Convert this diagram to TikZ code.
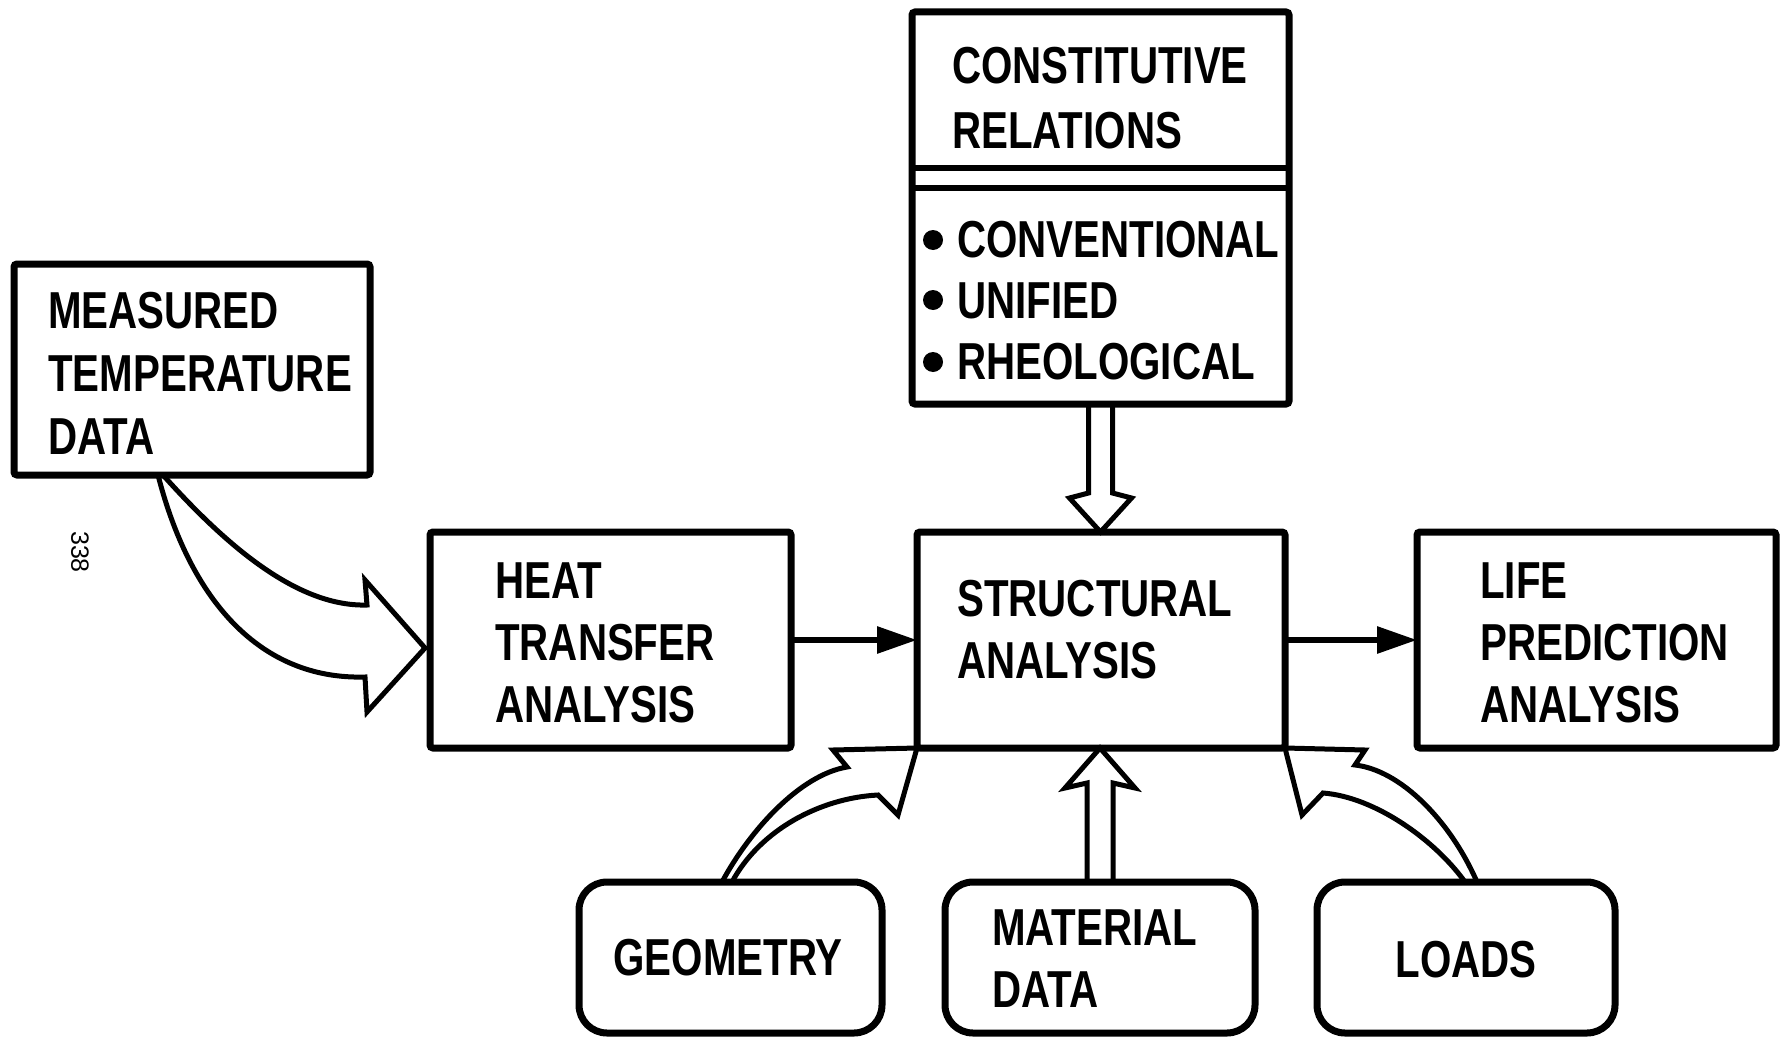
\documentclass[tikz,border=0pt]{standalone}
\usepackage{fontspec}
\setmainfont{Liberation Sans}
\newfontfamily\lett{Liberation Sans}[FakeStretch=0.775]
\usetikzlibrary{arrows.meta,calc}
\tikzset{
 box/.style={draw, line width=7pt, rounded corners=3pt, outer sep=0pt, inner sep=0pt},
 rbox/.style={box, rounded corners=28pt},
 txt/.style={font={\lett\bfseries\fontsize{52}{62}\selectfont}, align=left, inner sep=0pt, anchor=west},
 hollow/.style={draw, line width=5pt, line join=miter},
 solidarr/.style={line width=6pt, -{Triangle[length=40pt,width=26pt]}},
}
\begin{document}
\begin{tikzpicture}[x=1pt,y=-1pt]
\path[fill=white] (0,0) rectangle (1782,1038);
\useasboundingbox (0,0) rectangle (1782,1038);

% boxes
\node[box, minimum width=356pt, minimum height=211pt] (meas) at (192,369.5) {};
\node[box, minimum width=361pt, minimum height=216pt] (heat) at (610.5,640) {};
\node[box, minimum width=368pt, minimum height=216pt] (struct) at (1101,640) {};
\node[box, minimum width=359pt, minimum height=216pt] (life) at (1596.5,640) {};
\node[box, minimum width=377pt, minimum height=392pt] (const) at (1100.5,208) {};
\node[rbox, minimum width=303pt, minimum height=151pt] (geo) at (730.5,957.5) {};
\node[rbox, minimum width=310pt, minimum height=151pt] (mat) at (1100,957.5) {};
\node[rbox, minimum width=298pt, minimum height=151pt] (loads) at (1466,957.5) {};

% dividers in constitutive box
\draw[line width=6pt] ($(const.north west)+(0,156)$) -- ($(const.north east)+(0,156)$);
\draw[line width=6pt] ($(const.north west)+(0,176)$) -- ($(const.north east)+(0,176)$);

% bullets
\fill (933,240) circle (10pt);
\fill (933,300) circle (10pt);
\fill (933,362) circle (10pt);

% texts
\node[txt, font={\lett\bfseries\fontsize{52}{63}\selectfont}] (measT) at (48,373) {MEASURED\\TEMPERATURE\\DATA};
\node[txt, font={\lett\bfseries\fontsize{52}{65}\selectfont}] (constT) at (952,98) {CONSTITUTIVE\\RELATIONS};
\node[txt, font={\lett\bfseries\fontsize{52}{61}\selectfont}] (constL) at (957,301) {CONVENTIONAL\\UNIFIED\\RHEOLOGICAL};
\node[txt] (heatT) at (495,643) {HEAT\\TRANSFER\\ANALYSIS};
\node[txt] (structT) at (957,630) {STRUCTURAL\\ANALYSIS};
\node[txt] (lifeT) at (1480,643) {LIFE\\PREDICTION\\ANALYSIS};
\node[txt, anchor=center] (geoT) at (728,958) {GEOMETRY};
\node[txt] (matT) at (992,959) {MATERIAL\\DATA};
\node[txt, anchor=center] (loadsT) at (1466,960) {LOADS};
\node[font={\fontsize{25}{25}\selectfont}, rotate=-90, inner sep=0pt] (pg) at (80,552) {338};

% solid arrows
\draw[solidarr] (heat.east) -- (struct.west);
\draw[solidarr] (struct.east) -- (life.west);

% hollow arrow: measured -> heat
\coordinate (mA) at ($(meas.south west)+(149,0)$);
\coordinate (mB) at ($(meas.south west)+(144,0)$);
\coordinate (mT) at ($(heat.west)+(-5,8)$);
\draw[hollow] (mA) .. controls (230,550) and (300,607) .. (367,605) -- (365,580) -- (mT) -- (367,712) -- (365,677) .. controls (260,680) and (190,600) .. (mB);

% hollow arrow: constitutive -> structural
\draw[hollow] ($(const.south)+(-12,0)$) -- ($(const.south)+(-12,89)$) -- ($(const.south)+(-31,94)$) -- (const.south |- struct.north) -- ($(const.south)+(31,94)$) -- ($(const.south)+(12,89)$) -- ($(const.south)+(12,0)$);

% hollow arrow: geometry -> structural
\coordinate (gA) at ($(geo.north west)+(143,0)$);
\coordinate (gB) at ($(geo.north west)+(153,0)$);
\draw[hollow] (gA) .. controls (750,830) and (800,775) .. (847,767) -- (833,750) -- (struct.south west) -- (898,815) -- (878,795) .. controls (820,798) and (760,830) .. (gB);

% hollow arrow: material -> structural
\draw[hollow] ($(mat.north)+(-13,0)$) -- ($(mat.north)+(-13,-99)$) -- ($(mat.north)+(-35,-94)$) -- (mat.north |- struct.south) -- ($(mat.north)+(35,-94)$) -- ($(mat.north)+(13,-99)$) -- ($(mat.north)+(13,0)$);

% hollow arrow: loads -> structural
\coordinate (lA) at ($(loads.north west)+(160,0)$);
\coordinate (lB) at ($(loads.north west)+(148,0)$);
\draw[hollow] (lA) .. controls (1450,820) and (1400,770) .. (1355,765) -- (1365,750) -- (struct.south east) -- (1302,815) -- (1323,793) .. controls (1375,797) and (1435,840) .. (lB);
\end{tikzpicture}
\end{document}
